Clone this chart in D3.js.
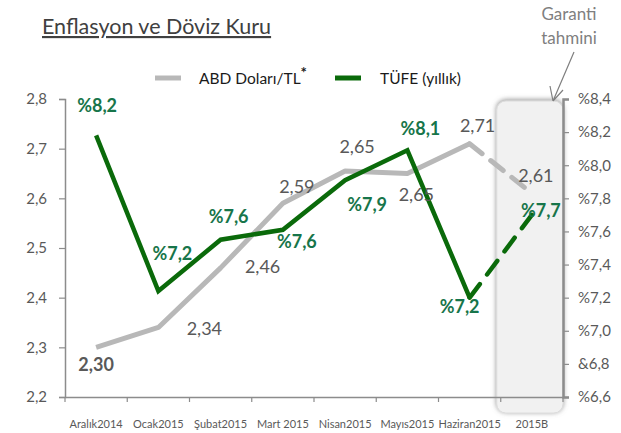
<!DOCTYPE html>
<html lang="tr">
<head>
<meta charset="utf-8">
<title>Enflasyon ve Döviz Kuru</title>
<script src="https://cdn.jsdelivr.net/npm/d3@7"></script>
<style>
    body { margin: 0; background: #fff; }
    text { font-family: Lato, "Liberation Sans", sans-serif; }
    .tick-label { font-size: 15px; fill: #595959; }
    .cat-label { font-size: 11px; fill: #595959; }
    .usd-label { font-size: 18px; fill: #595959; }
    .tufe-label { font-size: 18px; font-weight: bold; fill: #17754a; }
    .legend { font-size: 15.5px; fill: #1a1a1a; }
</style>
</head>
<body>
<div id="chart"></div>
<script>
    const w = 621;
    const h = 433;

    // data
    const categories = ["Aralık2014", "Ocak2015", "Şubat2015", "Mart 2015", "Nisan2015", "Mayıs2015", "Haziran2015", "2015B"];
    const usdTl = [2.30, 2.34, 2.46, 2.59, 2.655, 2.65, 2.71, 2.61];
    const tufe = [8.18, 7.24, 7.55, 7.61, 7.91, 8.09, 7.20, 7.70];
    const usdLabels = ["2,30", "2,34", "2,46", "2,59", "2,65", "2,65", "2,71", "2,61"];
    const tufeLabels = ["%8,2", "%7,2", "%7,6", "%7,6", "%7,9", "%8,1", "%7,2", "%7,7"];
    const leftTicks = [2.2, 2.3, 2.4, 2.5, 2.6, 2.7, 2.8];
    const leftTickLabels = ["2,2", "2,3", "2,4", "2,5", "2,6", "2,7", "2,8"];
    const rightTicks = [6.6, 6.8, 7.0, 7.2, 7.4, 7.6, 7.8, 8.0, 8.2, 8.4];
    const rightTickLabels = ["%6,6", "&6,8", "%7,0", "%7,2", "%7,4", "%7,6", "%7,8", "%8,0", "%8,2", "%8,4"];

    // label offsets from each point [dx, dy]
    const usdOffsets = [[0, 24], [46, 8], [42, 5], [14, -10], [12, -18], [9, 27], [8, -12], [4, -11]];
    const tufeOffsets = [[1, -23], [14, -31], [8, -17], [14, 18], [22, 31], [13, -15], [-10, 15], [9, 2]];

    const mLeft = 65, mRight = 563, mTop = 99, mBottom = 397;

    const svg = d3.select("#chart").append("svg")
        .attr("width", w)
        .attr("height", h);

    const x = d3.scaleBand().domain(categories).range([mLeft, mRight]);
    const yL = d3.scaleLinear().domain([2.2, 2.8]).range([mBottom, mTop]);
    const yR = d3.scaleLinear().domain([6.6, 8.4]).range([mBottom, mTop]);
    const cx = d => x(d) + x.bandwidth() / 2;

    const defs = svg.append("defs");
    const f = defs.append("filter").attr("id", "shadow")
        .attr("x", "-20%").attr("y", "-10%").attr("width", "140%").attr("height", "120%");
    f.append("feDropShadow").attr("dx", 0).attr("dy", -1).attr("stdDeviation", 2.5)
        .attr("flood-color", "#777").attr("flood-opacity", 0.8);

    // title
    svg.append("text")
        .attr("x", 42).attr("y", 34)
        .style("font-size", "21.5px").style("fill", "#404040")
        .style("text-decoration", "underline")
        .text("Enflasyon ve Döviz Kuru");

    // forecast box
    const lastX = x(categories[categories.length - 1]);
    svg.append("rect")
        .attr("x", lastX - 4).attr("y", mTop + 2)
        .attr("width", x.bandwidth() + 4).attr("height", 312)
        .attr("rx", 9)
        .attr("fill", "#f1f1f1").attr("stroke", "#dcdcdc")
        .attr("filter", "url(#shadow)");

    // Garanti tahmini note
    svg.append("text").attr("x", 569).attr("y", 20).attr("text-anchor", "middle")
        .style("font-size", "17px").style("fill", "#7f7f7f").text("Garanti");
    svg.append("text").attr("x", 569).attr("y", 44).attr("text-anchor", "middle")
        .style("font-size", "17px").style("fill", "#7f7f7f").text("tahmini");
    svg.append("path")
        .attr("d", "M574,52L553,101M553,101L550,86M553,101L563,90")
        .attr("fill", "none").attr("stroke", "#7f7f7f").attr("stroke-width", 1.2);

    // axes
    const axisColor = "#8c8c8c";
    const gL = svg.append("g").attr("transform", "translate(" + mLeft + ",0)")
        .call(d3.axisLeft(yL).tickValues(leftTicks).tickSize(6).tickFormat((d, i) => leftTickLabels[i]));
    const gR = svg.append("g").attr("transform", "translate(" + mRight + ",0)")
        .call(d3.axisRight(yR).tickValues(rightTicks).tickSize(6).tickFormat((d, i) => rightTickLabels[i]));
    const gB = svg.append("g").attr("transform", "translate(0," + mBottom + ")")
        .call(d3.axisBottom(x).tickSizeInner(0).tickSizeOuter(0).tickFormat(""));
    gB.selectAll(".tick").remove();
    gB.selectAll(".bt").data(d3.range(categories.length + 1)).enter().append("line")
        .attr("x1", i => mLeft + i * x.bandwidth()).attr("x2", i => mLeft + i * x.bandwidth())
        .attr("y1", 0).attr("y2", 5);

    [gL, gR, gB].forEach(g => {
        g.selectAll("path.domain").attr("stroke", axisColor).attr("stroke-width", 1.5);
        g.selectAll("line").attr("stroke", axisColor).attr("stroke-width", 1.2);
    });
    gR.select("path.domain").attr("stroke-width", 2.5);
    gL.selectAll("text").attr("class", "tick-label").attr("x", -18);
    gR.selectAll("text").attr("class", "tick-label").attr("x", 15);
    svg.selectAll("g text").attr("font-family", null).attr("font-size", null).attr("fill", null);
    [gL, gR, gB].forEach(g => g.attr("font-family", null).attr("font-size", null));

    svg.selectAll(".cat-label").data(categories).enter().append("text")
        .attr("class", "cat-label")
        .attr("x", d => cx(d)).attr("y", 428)
        .attr("text-anchor", "middle")
        .text(d => d);

    // lines
    const n = categories.length;
    const usdLine = d3.line().x((d, i) => cx(categories[i])).y(d => yL(d));
    const tufeLine = d3.line().x((d, i) => cx(categories[i])).y(d => yR(d));

    svg.append("path").datum(usdTl.slice(0, n - 1))
        .attr("d", usdLine).attr("fill", "none")
        .attr("stroke", "#b8b8b8").attr("stroke-width", 5).attr("stroke-linejoin", "round");
    svg.append("path").datum(usdTl.slice(n - 2))
        .attr("d", d3.line().x((d, i) => cx(categories[n - 2 + i])).y(d => yL(d)))
        .attr("fill", "none").attr("stroke", "#b8b8b8").attr("stroke-width", 5)
        .attr("stroke-linecap", "round").attr("stroke-dasharray", "16,11");

    svg.append("path").datum(tufe.slice(0, n - 1))
        .attr("d", tufeLine).attr("fill", "none")
        .attr("stroke", "#0a6a0a").attr("stroke-width", 4.5).attr("stroke-linejoin", "miter");
    svg.append("path").datum(tufe.slice(n - 2))
        .attr("d", d3.line().x((d, i) => cx(categories[n - 2 + i])).y(d => yR(d)))
        .attr("fill", "none").attr("stroke", "#0a6a0a").attr("stroke-width", 4.5)
        .attr("stroke-linecap", "round").attr("stroke-dasharray", "17,12");

    // data labels
    svg.selectAll(".usd-label").data(usdTl).enter().append("text")
        .attr("class", "usd-label")
        .attr("x", (d, i) => cx(categories[i]) + usdOffsets[i][0])
        .attr("y", (d, i) => yL(d) + usdOffsets[i][1])
        .attr("text-anchor", "middle")
        .style("font-weight", (d, i) => i === 0 ? "bold" : null)
        .text((d, i) => usdLabels[i]);

    svg.selectAll(".tufe-label").data(tufe).enter().append("text")
        .attr("class", "tufe-label")
        .attr("x", (d, i) => cx(categories[i]) + tufeOffsets[i][0])
        .attr("y", (d, i) => yR(d) + tufeOffsets[i][1])
        .attr("text-anchor", "middle")
        .text((d, i) => tufeLabels[i]);

    // legend
    const lg = svg.append("g");
    lg.append("line").attr("x1", 155).attr("x2", 181).attr("y1", 78).attr("y2", 78)
        .attr("stroke", "#b8b8b8").attr("stroke-width", 5);
    const t1 = lg.append("text").attr("class", "legend").attr("x", 199).attr("y", 84);
    t1.append("tspan").text("ABD Doları/TL");
    t1.append("tspan").attr("dy", -6).style("font-size", "15px").style("font-weight", "bold").text("*");
    lg.append("line").attr("x1", 335).attr("x2", 361).attr("y1", 78).attr("y2", 78)
        .attr("stroke", "#0a6a0a").attr("stroke-width", 5);
    lg.append("text").attr("class", "legend").attr("x", 380).attr("y", 84).text("TÜFE (yıllık)");
</script>
</body>
</html>
